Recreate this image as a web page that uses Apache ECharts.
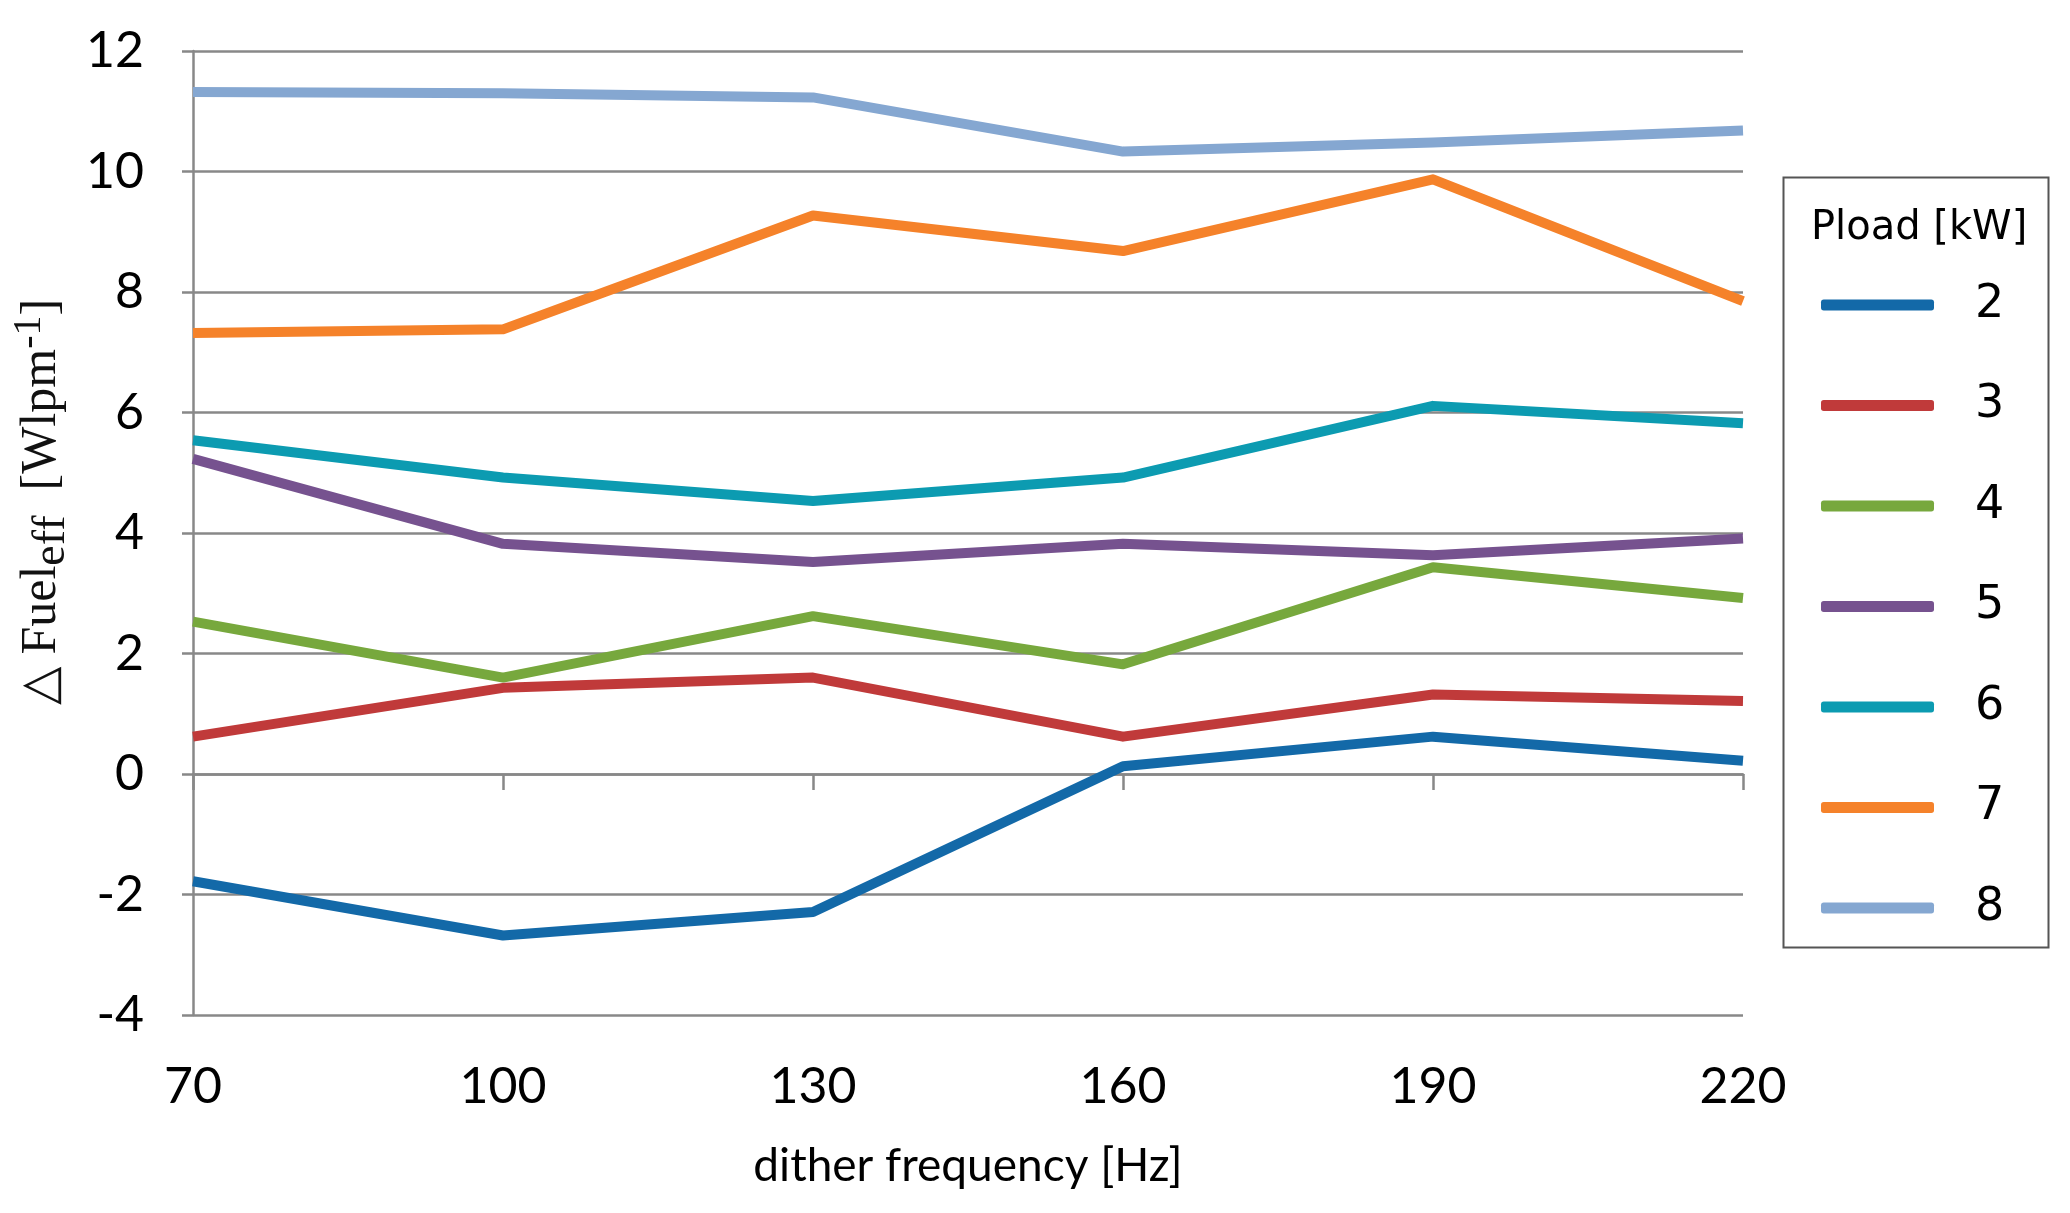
<!DOCTYPE html>
<html>
<head>
<meta charset="utf-8">
<script src="https://cdn.jsdelivr.net/npm/echarts@6/dist/echarts.min.js"></script>
<style>
html,body{margin:0;padding:0;background:#fff;}
#chart{width:2070px;height:1213px;}
</style>
</head>
<body>
<div id="chart"></div>
<script>
var frequencies = [70, 100, 130, 160, 190, 220];
var loadNames = ['2', '3', '4', '5', '6', '7', '8'];
var load2 = [-1.78, -2.68, -2.29, 0.13, 0.62, 0.22];
var load3 = [0.62, 1.43, 1.6, 0.62, 1.32, 1.21];
var load4 = [2.53, 1.6, 2.62, 1.82, 3.43, 2.92];
var load5 = [5.23, 3.82, 3.52, 3.82, 3.63, 3.91];
var load6 = [5.54, 4.92, 4.53, 4.92, 6.11, 5.82];
var load7 = [7.32, 7.38, 9.27, 8.68, 9.87, 7.85];
var load8 = [11.32, 11.3, 11.23, 10.33, 10.48, 10.68];
var yTicks = [-4, -2, 0, 2, 4, 6, 8, 10, 12];
var colors = ['#1369A8', '#C03A3A', '#77A83D', '#76528F', '#0C9BB1', '#F5822A', '#85A7D1'];

var allLoads = [load2, load3, load4, load5, load6, load7, load8];
function pairs(vals){ return frequencies.map(function(f, i){ return [f, vals[i]]; }); }

var series = allLoads.map(function(vals, k){
  return {
    name: loadNames[k], type: 'line', xAxisIndex: 0, yAxisIndex: 0,
    data: pairs(vals), showSymbol: false, symbol: 'none',
    lineStyle: {color: colors[k], width: 10, cap: 'butt', join: 'round'},
    itemStyle: {color: colors[k]},
    emphasis: {disabled: true}, animation: false
  };
});

var chart = echarts.init(document.getElementById('chart'));
chart.setOption({
  backgroundColor: '#fff',
  animation: false,
  grid: {left: 193, right: 327, top: 51, bottom: 198, containLabel: false},
  title: {
    text: 'Pload [kW]', left: 1806, top: 204,
    textStyle: {fontFamily: 'DejaVu Sans', fontSize: 40, fontWeight: 'normal', color: '#000'}
  },
  legend: {
    orient: 'vertical', left: 1816, top: 275,
    data: loadNames, icon: 'roundRect',
    itemWidth: 113, itemHeight: 11, itemGap: 50.5,
    selectedMode: false,
    textStyle: {fontFamily: 'DejaVu Sans', fontSize: 46, color: '#000', lineHeight: 50, padding: [0, 0, 0, 36]}
  },
  graphic: [{
    type: 'rect', left: 1781, top: 175,
    shape: {width: 265, height: 770},
    style: {fill: 'none', stroke: '#555', lineWidth: 2}
  }],
  xAxis: [{
    type: 'value', min: 70, max: 220, interval: 30,
    axisLine: {show: false, onZero: false},
    axisTick: {show: false},
    splitLine: {show: false},
    axisLabel: {fontFamily: 'Lato', fontSize: 50, color: '#000', margin: 47},
    name: 'dither frequency [Hz]', nameLocation: 'middle', nameGap: 128,
    nameTextStyle: {fontFamily: 'Lato', fontSize: 46, color: '#000'}
  }, {
    type: 'value', min: 70, max: 220, interval: 30, position: 'bottom',
    axisLine: {show: true, onZero: true, lineStyle: {color: '#888', width: 2.5}},
    axisTick: {show: true, inside: false, length: 16, lineStyle: {color: '#888', width: 2.5}},
    axisLabel: {show: false},
    splitLine: {show: false}
  }],
  yAxis: [{
    type: 'value', min: -4, max: 12, interval: 2,
    axisLine: {show: true, onZero: false, lineStyle: {color: '#888', width: 2.5}},
    axisTick: {show: true, inside: false, length: 11, lineStyle: {color: '#888', width: 2.5}},
    splitLine: {show: true, lineStyle: {color: '#888', width: 2.5}},
    axisLabel: {fontFamily: 'Lato', fontSize: 50, color: '#000', margin: 49,
      formatter: function(v){ return yTicks.indexOf(v) >= 0 ? String(v) : ''; }},
    name: '{a|\u25B3 Fuel}{sub|eff}{a|  [Wlpm}{sup|-1}{a|]}',
    nameLocation: 'middle', nameGap: 102, nameRotate: 90,
    nameTextStyle: {
      padding: [0, 0, 0, 62],
      rich: {
        a: {fontFamily: 'Liberation Serif', fontSize: 50, color: '#111', lineHeight: 66, verticalAlign: 'middle'},
        sub: {fontFamily: 'Liberation Serif', fontSize: 46, color: '#111', lineHeight: 66, verticalAlign: 'bottom', padding: [16, 0, 0, 0]},
        sup: {fontFamily: 'Liberation Serif', fontSize: 40, color: '#111', lineHeight: 66, verticalAlign: 'top', padding: [0, 0, 16, 0]}
      }
    }
  }],
  series: series
});
</script>
</body>
</html>
